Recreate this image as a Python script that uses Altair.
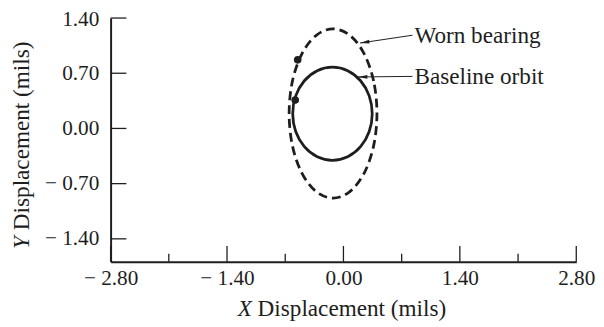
import altair as alt
import pandas as pd

# ---- data ----
base_x = [0.346, 0.310, 0.206, 0.051, -0.132, -0.315, -0.470, -0.574,
          -0.610, -0.574, -0.470, -0.315, -0.132, 0.051, 0.206, 0.310]
base_y = [0.187, 0.413, 0.605, 0.733, 0.778, 0.733, 0.605, 0.413,
          0.187, -0.039, -0.231, -0.359, -0.404, -0.359, -0.231, -0.039]

worn_x = [0.403, 0.363, 0.248, 0.077, -0.125, -0.327, -0.498, -0.613,
          -0.653, -0.613, -0.498, -0.327, -0.125, 0.077, 0.248, 0.363]
worn_y = [0.190, 0.601, 0.949, 1.181, 1.263, 1.181, 0.949, 0.601,
          0.190, -0.221, -0.569, -0.801, -0.883, -0.801, -0.569, -0.221]

dot_x = [-0.55, -0.58]
dot_y = [0.87, 0.36]

ann_labels = ["Worn bearing", "Baseline orbit"]
ann_text_x = [0.83, 0.83]
ann_text_y = [1.182, 0.66]
ann_tip_x = [0.20, 0.175]
ann_tip_y = [1.083, 0.653]
ann_angle = [171.6, 179.0]

x_major = [-2.8, -1.4, 0.0, 1.4, 2.8]
x_minor = [-2.1, -0.7, 0.7, 2.1]
y_major = [-1.4, -0.7, 0.0, 0.7, 1.4]

X_DOMAIN = [-2.8, 2.8]
Y_DOMAIN = [-1.69, 1.4]

W, H = 472, 247
FONT = "Liberation Serif"
INK = "#1e1e1e"
TFS = 23.5   # title / annotation font size
LFS = 21.5   # tick label font size

base_df = pd.DataFrame({"i": range(len(base_x)), "x": base_x, "y": base_y})
worn_df = pd.DataFrame({"i": range(len(worn_x)), "x": worn_x, "y": worn_y})
dot_df = pd.DataFrame({"x": dot_x, "y": dot_y})
ann_df = pd.DataFrame({"label": ann_labels, "tx": ann_text_x, "ty": ann_text_y,
                       "px": ann_tip_x, "py": ann_tip_y, "ang": ann_angle})
xmaj_df = pd.DataFrame({"v": x_major})
xmin_df = pd.DataFrame({"v": x_minor})
ymaj_df = pd.DataFrame({"v": y_major})

label_expr = ("datum.value < 0 ? '\u2212 ' + format(-datum.value, '.2f') "
              ": format(datum.value, '.2f')")

xs = alt.Scale(domain=X_DOMAIN, nice=False, zero=False)
ys = alt.Scale(domain=Y_DOMAIN, nice=False, zero=False)

x_axis = alt.Axis(values=x_major, labelExpr=label_expr, title=None, ticks=False,
                  tickSize=0, labelPadding=6, labelFlush=False, grid=False)
y_axis = alt.Axis(values=y_major, labelExpr=label_expr, title=None, ticks=False,
                  tickSize=0, labelPadding=12, grid=False, labelFlush=False,
                  labelOffset={"condition": {"test": "datum.value > 1.3", "value": 1.5},
                               "value": 0})

axes_layer = alt.Chart(base_df).mark_point(opacity=0).encode(
    x=alt.X("x:Q", scale=xs, axis=x_axis),
    y=alt.Y("y:Q", scale=ys, axis=y_axis),
)

worn = alt.Chart(worn_df).mark_line(
    interpolate="cardinal-closed", color=INK, strokeWidth=2.8, strokeDash=[9, 5]
).encode(x=alt.X("x:Q", scale=xs), y=alt.Y("y:Q", scale=ys), order="i:Q")

base = alt.Chart(base_df).mark_line(
    interpolate="cardinal-closed", color=INK, strokeWidth=2.8
).encode(x=alt.X("x:Q", scale=xs), y=alt.Y("y:Q", scale=ys), order="i:Q")

dots = alt.Chart(dot_df).mark_circle(size=60, color=INK, opacity=1).encode(
    x=alt.X("x:Q", scale=xs), y=alt.Y("y:Q", scale=ys))

arrow_lines = alt.Chart(ann_df).mark_rule(color=INK, strokeWidth=1).encode(
    x=alt.X("tx:Q", scale=xs), y=alt.Y("ty:Q", scale=ys),
    x2="px:Q", y2="py:Q")

arrow_heads = alt.Chart(ann_df).mark_point(
    shape="M0,0L-1,-0.2L-1,0.2Z", filled=True, size=360, color=INK, opacity=1
).encode(x=alt.X("px:Q", scale=xs), y=alt.Y("py:Q", scale=ys),
         angle=alt.Angle("ang:Q", scale=None))

ann_text = alt.Chart(ann_df).mark_text(
    align="left", baseline="alphabetic", dx=2, dy=8, font=FONT, fontSize=TFS, color=INK
).encode(x=alt.X("tx:Q", scale=xs), y=alt.Y("ty:Q", scale=ys), text="label:N")

xt_tick_major = alt.Chart(xmaj_df).mark_rule(color=INK, strokeWidth=1.3).encode(
    x=alt.X("v:Q", scale=xs), y=alt.value(H), y2=alt.value(H - 16))
xt_tick_minor = alt.Chart(xmin_df).mark_rule(color=INK, strokeWidth=1.3).encode(
    x=alt.X("v:Q", scale=xs), y=alt.value(H), y2=alt.value(H - 8))
yt_tick = alt.Chart(ymaj_df).mark_rule(color=INK, strokeWidth=1.3).encode(
    y=alt.Y("v:Q", scale=ys), x=alt.value(0), x2=alt.value(16))

one = pd.DataFrame({"k": [0]})
x_title_it = alt.Chart(one).mark_text(
    align="left", baseline="alphabetic", font=FONT, fontSize=TFS, fontStyle="italic",
    color=INK).encode(x=alt.value(129), y=alt.value(302), text=alt.value("X"))
x_title_rest = alt.Chart(one).mark_text(
    align="left", baseline="alphabetic", font=FONT, fontSize=TFS, color=INK
).encode(x=alt.value(149), y=alt.value(302), text=alt.value("Displacement (mils)"))
y_title_it = alt.Chart(one).mark_text(
    align="left", baseline="alphabetic", font=FONT, fontSize=TFS, fontStyle="italic",
    angle=270, color=INK).encode(x=alt.value(-83), y=alt.value(234), text=alt.value("Y"))
y_title_rest = alt.Chart(one).mark_text(
    align="left", baseline="alphabetic", font=FONT, fontSize=TFS, angle=270, color=INK
).encode(x=alt.value(-83), y=alt.value(215), text=alt.value("Displacement (mils)"))

chart = alt.layer(
    axes_layer, worn, base, dots, arrow_lines, arrow_heads, ann_text,
    xt_tick_major, xt_tick_minor, yt_tick,
    x_title_it, x_title_rest, y_title_it, y_title_rest,
).properties(
    width=W, height=H,
    autosize=alt.AutoSizeParams(type="none"),
    padding={"left": 104, "top": 8, "right": 20, "bottom": 64},
).configure_view(stroke=None).configure_axis(
    domainColor=INK, domainWidth=2, labelFont=FONT, labelFontSize=LFS, labelColor=INK,
)

chart.save("out.html", embed_options={"renderer": "svg", "actions": False})
